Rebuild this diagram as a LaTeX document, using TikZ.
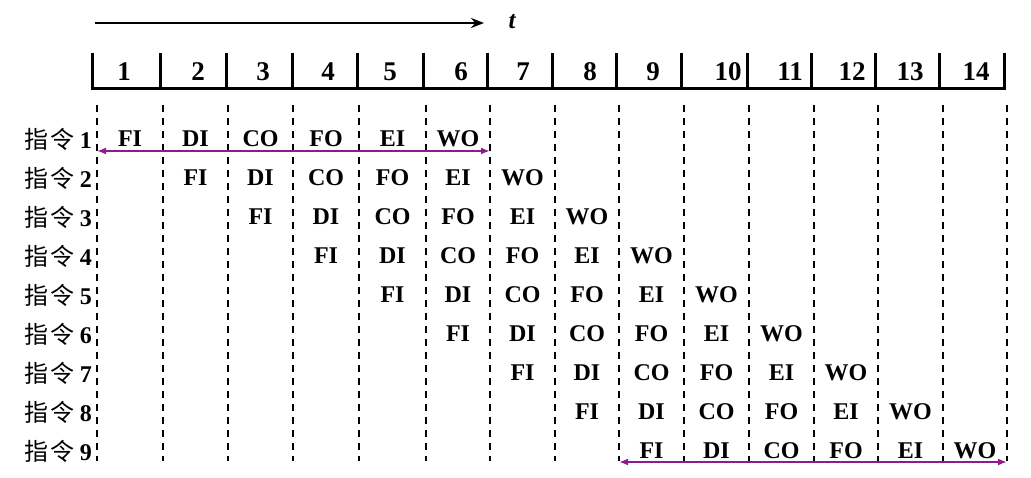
\documentclass[tikz,border=0pt]{standalone}
\usepackage{fontspec}
\setmainfont{Liberation Serif}
\newfontfamily\cjk{Noto Sans CJK SC}
\usetikzlibrary{arrows.meta}
\definecolor{arrowpurple}{RGB}{142,26,142}
\begin{document}
\begin{tikzpicture}[x=1pt,y=-1pt,
  ruler/.style={line width=3pt},
  grid/.style={line width=2.3pt,dash pattern=on 7pt off 6pt},
  stagetxt/.style={font=\fontsize{24}{24}\selectfont\bfseries,inner sep=0pt},
  numtxt/.style={font=\fontsize{27}{27}\selectfont\bfseries,inner sep=0pt},
  rowlabel/.style={font=\fontsize{24}{24}\selectfont,inner sep=0pt,anchor=east},
  span/.style={arrowpurple,line width=2.2pt,{Latex[length=9pt,width=7pt]}-{Latex[length=9pt,width=7pt]}}]
\useasboundingbox (0,0) rectangle (1031,478);
% time arrow
\coordinate (ta) at (95,23);
\coordinate (tb) at (484,23);
\draw[line width=2.8pt,-{Stealth[length=13pt,width=10pt]}] (ta) -- (tb);
\node[font=\fontsize{25}{25}\selectfont\bfseries\itshape,inner sep=0pt] (tlab) at (512,22) {t};
% ruler
\def\ticks{{92,160,226,292,357,423,487,552,616,681,747,811,875,939,1004}}
\def\nums{{124,198,263,328,390,461,523,590,653,728,790,852,910,976}}
\coordinate (r0) at (90.5,89);
\coordinate (r1) at (1005.5,89);
\draw[ruler] (r0) -- (r1);
\foreach \k in {0,...,14}{
  \pgfmathsetmacro{\tx}{\ticks[\k]}
  \coordinate (tt\k) at (\tx,53);
  \coordinate (tbm\k) at (\tx,89);
  \draw[ruler] (tt\k) -- (tbm\k);
}
\foreach \k [evaluate=\k as \kk using int(\k+1)] in {0,...,13}{
  \pgfmathsetmacro{\nx}{\nums[\k]}
  \node[numtxt] (n\kk) at (\nx,72) {\kk};
}
% dashed grid
\def\dl{{97,163,228,293,359,426,490,555,619,684,749,814,878,943,1007}}
\foreach \k in {0,...,14}{
  \pgfmathsetmacro{\dx}{\dl[\k]}
  \coordinate (dt\k) at (\dx,105);
  \coordinate (db\k) at (\dx,461);
  \draw[grid] (dt\k) -- (db\k);
}
% rows
\foreach \i in {1,...,9}{
  \pgfmathsetmacro{\ry}{139+39*(\i-1)}
  \node[rowlabel] (lab\i) at (92,\ry) {{\cjk 指\hspace{2pt}令}\hspace{5pt}\textbf{\i}};
  \foreach \s [count=\j from 0] in {FI,DI,CO,FO,EI,WO}{
    \pgfmathtruncatemacro{\ca}{\i+\j-1}
    \pgfmathtruncatemacro{\cb}{\i+\j}
    \pgfmathsetmacro{\xa}{\dl[\ca]}
    \pgfmathsetmacro{\xb}{\dl[\cb]}
    \pgfmathsetmacro{\cx}{(\xa+\xb)/2}
    \node[stagetxt] (c\i-\cb) at (\cx,\ry) {\s};
  }
}
% spans
\coordinate (s1a) at (97,151);
\coordinate (s1b) at (490,151);
\draw[span] (s1a) -- (s1b);
\coordinate (s9a) at (619,462);
\coordinate (s9b) at (1007,462);
\draw[span] (s9a) -- (s9b);
\end{tikzpicture}
\end{document}
